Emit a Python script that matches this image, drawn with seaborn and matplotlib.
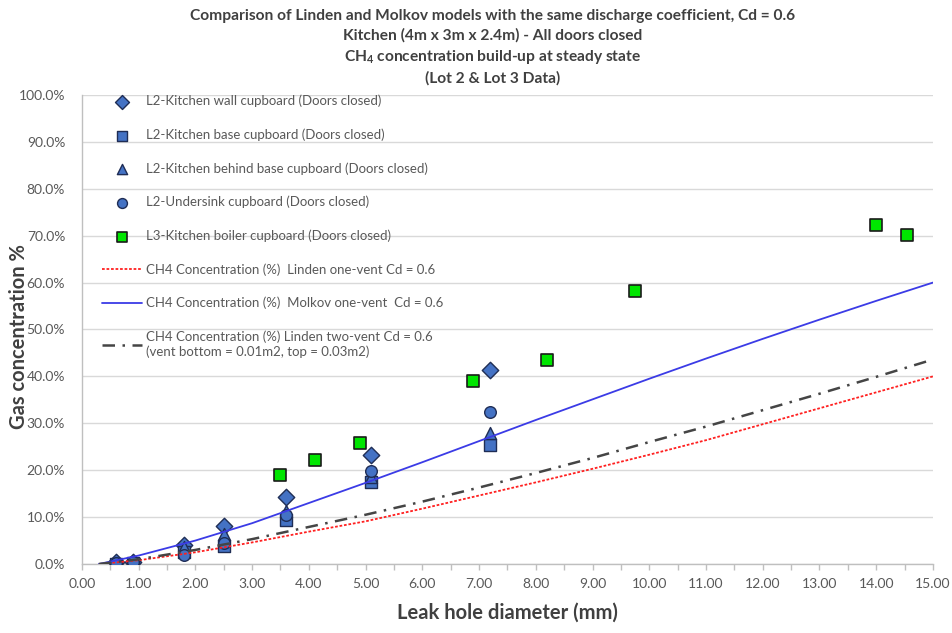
import numpy as np
import pandas as pd
import matplotlib
matplotlib.use("Agg")
import matplotlib.pyplot as plt
import seaborn as sns
from matplotlib.ticker import MultipleLocator, StrMethodFormatter

# ---------------- data ----------------
l2_x = [0.6, 0.9, 1.8, 2.5, 3.6, 5.1, 7.2]
wall = [0.5, 0.5, 4.1, 8.1, 14.3, 23.3, 41.4]
base = [0.1, 0.3, 2.6, 3.8, 9.3, 17.4, 25.4]
behind = [0.3, 0.4, 3.6, 6.3, 11.4, 18.6, 27.9]
undersink = [0.2, 0.5, 2.0, 4.4, 10.5, 19.8, 32.5]

l3_x = [3.5, 4.1, 4.9, 6.9, 8.2, 9.75, 14.0, 14.55]
boiler = [18.9, 22.2, 25.7, 39.0, 43.5, 58.2, 72.2, 70.1]

model_x = [0.3, 1, 2, 3, 4, 5, 6, 7, 8, 9, 10, 11, 12, 13, 14, 15]
linden_one = [0.0, 0.8, 2.5, 4.6, 6.9, 9.1, 11.8, 14.6, 17.4, 20.3, 23.3, 26.4, 29.8, 33.2, 36.6, 40.0]
molkov_one = [0.0, 1.8, 5.0, 8.7, 13.0, 17.3, 21.7, 26.2, 30.7, 35.1, 39.5, 43.8, 48.0, 52.1, 56.1, 60.0]
linden_two = [0.0, 1.0, 3.0, 5.3, 7.9, 10.5, 13.3, 16.3, 19.4, 22.6, 26.0, 29.3, 32.8, 36.3, 39.9, 43.6]

lab_wall = "L2-Kitchen wall cupboard (Doors closed)"
lab_base = "L2-Kitchen base cupboard (Doors closed)"
lab_behind = "L2-Kitchen behind base cupboard (Doors closed)"
lab_under = "L2-Undersink cupboard (Doors closed)"
lab_boiler = "L3-Kitchen boiler cupboard (Doors closed)"
lab_lin1 = "CH4 Concentration (%)  Linden one-vent Cd = 0.6"
lab_mol1 = "CH4 Concentration (%)  Molkov one-vent  Cd = 0.6"
lab_lin2 = "CH4 Concentration (%) Linden two-vent Cd = 0.6\n(vent bottom = 0.01m2, top = 0.03m2)"

title = ("Comparison of Linden and Molkov models with the same discharge coefficient, Cd = 0.6\n"
         "Kitchen (4m x 3m x 2.4m) - All doors closed\n"
         "CH$_4$ concentration build-up at steady state\n"
         "(Lot 2 & Lot 3 Data)")

# ---------------- style ----------------
sns.set_theme(style="white")
plt.rcParams['font.family'] = ['Lato', 'DejaVu Sans']
plt.rcParams['mathtext.fontset'] = 'custom'
plt.rcParams['mathtext.rm'] = 'Lato:bold'
plt.rcParams['mathtext.it'] = 'Lato:bold'
plt.rcParams['mathtext.bf'] = 'Lato:bold'

fig = plt.figure(figsize=(9.52, 6.33), dpi=100)
ax = fig.add_axes([0.086, 0.109, 0.894, 0.741])

blue_fill = "#4472C4"
blue_edge = "#1F2D55"
green_fill = "#00E600"

df_l2 = pd.DataFrame({"x": l2_x, "wall": wall, "base": base, "behind": behind, "under": undersink})
df_l3 = pd.DataFrame({"x": l3_x, "boiler": boiler})
df_m = pd.DataFrame({"x": model_x, "lin1": linden_one, "mol1": molkov_one, "lin2": linden_two})

sns.scatterplot(data=df_l2, x="x", y="wall", ax=ax, marker="D", s=70, color=blue_fill,
                edgecolor=blue_edge, linewidth=1.0, label=lab_wall, zorder=3)
sns.scatterplot(data=df_l2, x="x", y="base", ax=ax, marker="s", s=65, color=blue_fill,
                edgecolor=blue_edge, linewidth=1.0, label=lab_base, zorder=3)
sns.scatterplot(data=df_l2, x="x", y="behind", ax=ax, marker="^", s=75, color=blue_fill,
                edgecolor=blue_edge, linewidth=1.0, label=lab_behind, zorder=3)
sns.scatterplot(data=df_l2, x="x", y="under", ax=ax, marker="o", s=70, color=blue_fill,
                edgecolor=blue_edge, linewidth=1.0, label=lab_under, zorder=3)
sns.scatterplot(data=df_l3, x="x", y="boiler", ax=ax, marker="s", s=75, color=green_fill,
                edgecolor="#1a1a1a", linewidth=1.2, label=lab_boiler, zorder=3)

sns.lineplot(data=df_m, x="x", y="lin1", ax=ax, color="#FF2020", lw=1.3,
             linestyle=(0, (1.5, 1)), label=lab_lin1, zorder=4)
sns.lineplot(data=df_m, x="x", y="mol1", ax=ax, color="#3B3BE6", lw=1.3,
             label=lab_mol1, zorder=4)
sns.lineplot(data=df_m, x="x", y="lin2", ax=ax, color="#454545", lw=1.8,
             linestyle=(0, (5, 3, 1, 3)), label=lab_lin2, zorder=4)

# ---------------- axes ----------------
ax.set_xlim(0, 15)
ax.set_ylim(0, 100)
ax.xaxis.set_major_locator(MultipleLocator(1))
ax.xaxis.set_minor_locator(MultipleLocator(0.5))
ax.xaxis.set_major_formatter(StrMethodFormatter("{x:.2f}"))
ax.yaxis.set_major_locator(MultipleLocator(10))
ax.yaxis.set_major_formatter(StrMethodFormatter("{x:.1f}%"))

ax.grid(axis="y", color="#D9D9D9", lw=1.0)
ax.grid(axis="x", visible=False)
ax.set_axisbelow(True)
for s in ["top", "right"]:
    ax.spines[s].set_visible(False)
for s in ["left", "bottom"]:
    ax.spines[s].set_color("#BFBFBF")
    ax.spines[s].set_linewidth(1.0)

ax.tick_params(axis="x", which="both", bottom=True, length=4, width=1, color="#BFBFBF",
               labelsize=10, labelcolor="#595959", pad=6)
ax.tick_params(axis="y", which="both", left=False, labelsize=10, labelcolor="#595959", pad=6)

ax.set_xlabel("Leak hole diameter (mm)", fontsize=14.5, fontweight="bold", color="#404040", labelpad=9)
ax.set_ylabel("Gas concentration %", fontsize=14.5, fontweight="bold", color="#404040")
ax.yaxis.set_label_coords(-0.062, 0.485)

fig.text(0.517, 0.985, title, ha="center", va="top", fontsize=11.2, fontweight="bold",
         color="#404040", linespacing=1.42)

handles, labels = ax.get_legend_handles_labels()
leg = ax.legend(handles, labels, loc="upper left", bbox_to_anchor=(0.024, 1.0),
                frameon=False, fontsize=9.5, labelcolor="#595959", borderaxespad=0,
                borderpad=0, labelspacing=1.6, handlelength=3.0, handletextpad=0.35,
                markerscale=0.85)

fig.savefig("out.png", dpi=100)
